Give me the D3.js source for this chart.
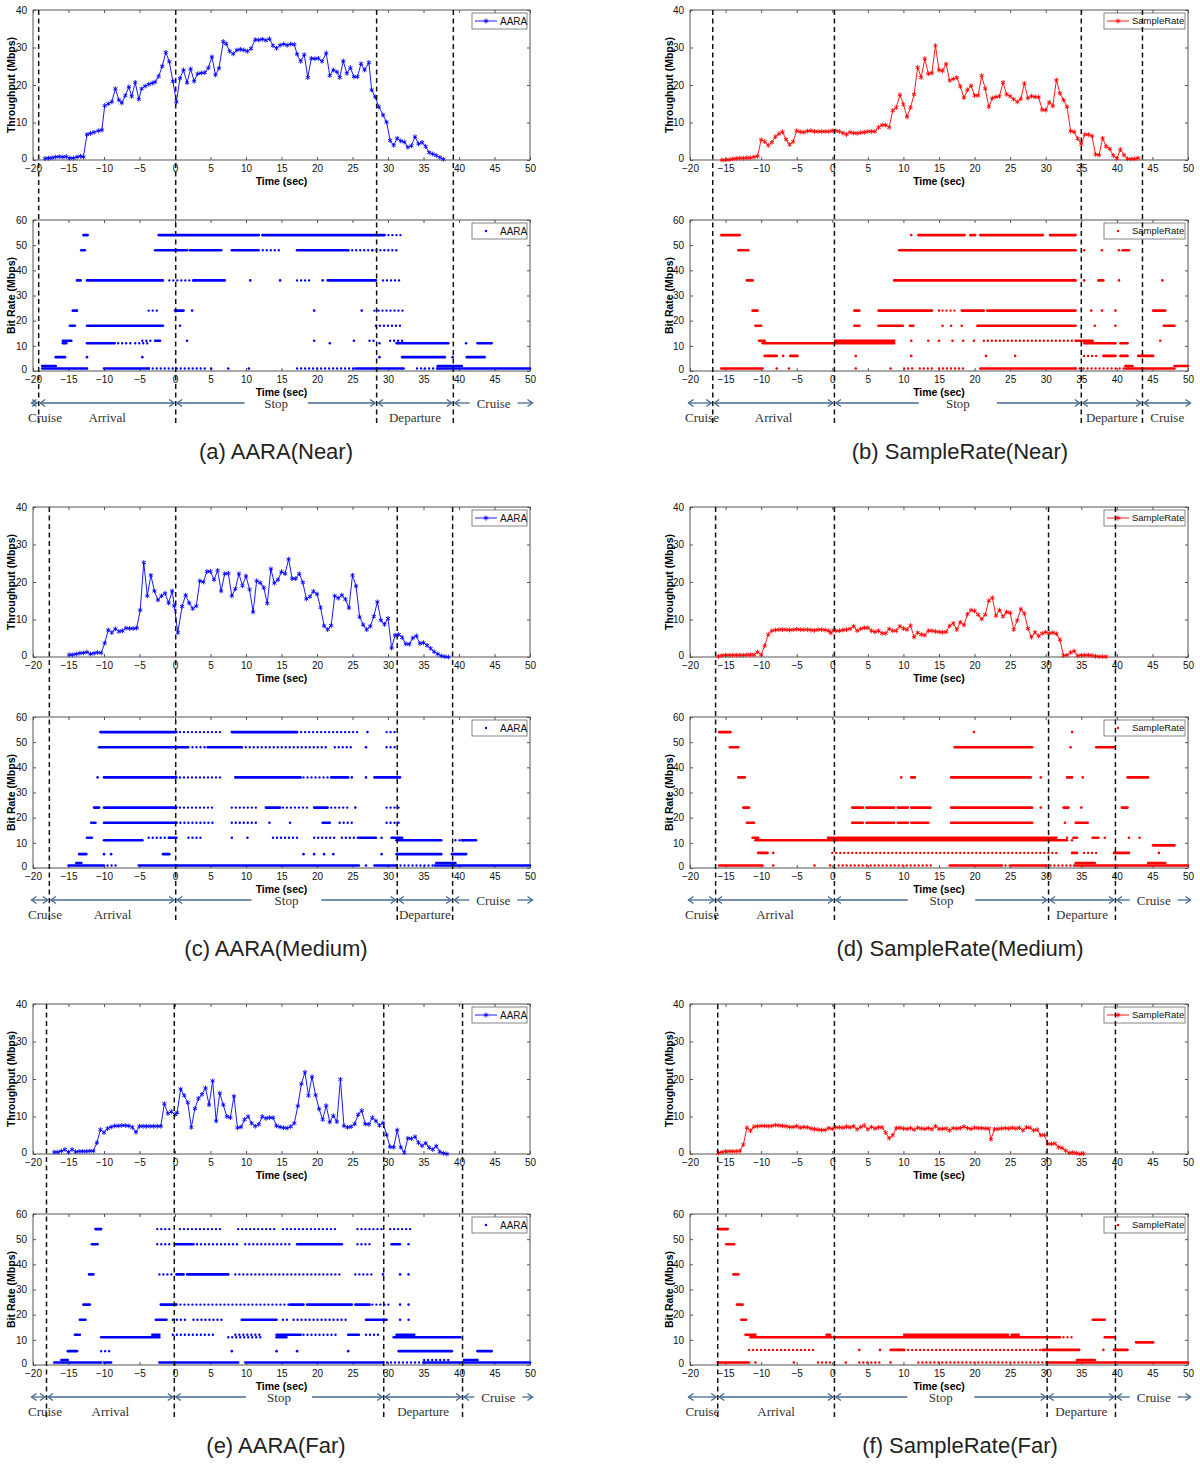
<!DOCTYPE html>
<html><head><meta charset="utf-8">
<script src="https://cdn.jsdelivr.net/npm/d3@7"></script>
<style>body{margin:0;background:#fff}svg{display:block}</style>
</head><body>
<svg id="chart" width="1200" height="1474"></svg>
<script>
// ---------------- DATA ----------------
const xTicks = [-20,-15,-10,-5,0,5,10,15,20,25,30,35,40,45,50];
const thrTicks = [0,10,20,30,40];
const rateTicks = [0,10,20,30,40,50,60];
const panelLabels = ["(a) AARA(Near)","(b) SampleRate(Near)","(c) AARA(Medium)","(d) SampleRate(Medium)","(e) AARA(Far)","(f) SampleRate(Far)"];
const schemes = ["AARA","SampleRate","AARA","SampleRate","AARA","SampleRate"];
const phaseNames = ["Cruise","Arrival","Stop","Departure","Cruise"];

// phase boundaries (sec) per panel
const boundsA = [-19.2,0.1,28.4,39.2];
const boundsB = [-16.8,0.3,35.0,43.6];
const boundsC = [-17.7,0.1,31.3,39.1];
const boundsD = [-16.4,0.3,30.4,39.8];
const boundsE = [-18.1,-0.1,29.4,40.5];
const boundsF = [-16.1,0.3,30.2,39.8];

// throughput [time, Mbps]
const thrA = [[-18.3,.4],[-17.8,.5],[-17.3,.6],[-16.8,.8],[-16.3,.9],[-15.8,.8],[-15.3,.9],[-14.8,.5],[-14.3,.5],[-13.8,.8],[-13.3,1],[-12.9,.8],[-12.4,6.8],[-11.9,7.1],[-11.4,7.4],[-10.8,7.8],[-10.3,8],[-9.9,14.5],[-9.4,15],[-8.9,15.5],[-8.4,19],[-7.9,16],[-7.5,15.2],[-7,17.2],[-6.5,19.5],[-6.1,17],[-5.6,20.7],[-5.1,16.2],[-4.7,19],[-4.2,19.7],[-3.7,20.2],[-3.2,20.5],[-2.8,20.8],[-2.3,22.3],[-1.8,25],[-1.3,28.7],[-0.8,26.2],[-0.3,21],[0.2,15.5],[0.7,21.8],[1.2,24],[1.7,20.6],[2.2,24.3],[2.7,21],[3.2,23],[3.7,23.2],[4.2,23.3],[4.7,24.6],[5.2,27.5],[5.7,22.7],[6.2,24.5],[6.8,31.6],[7.2,31],[7.7,29],[8.2,28.3],[8.7,29.3],[9.2,29.5],[9.7,29.3],[10.2,29],[10.7,29.7],[11.3,32.1],[11.8,32],[12.3,32.2],[12.8,31.9],[13.3,32.3],[13.8,30.5],[14.3,29.8],[14.8,30.6],[15.3,30.9],[15.8,30.6],[16.3,30.9],[16.8,30.8],[17.2,28.2],[17.7,26.3],[18.2,28.1],[18.7,22],[19.2,27.1],[19.7,27],[20.2,27.1],[20.7,26.3],[21.3,28.5],[21.8,22.5],[22.3,24],[22.8,23.5],[23.2,22],[23.7,26.4],[24.2,23.1],[24.7,24.6],[25.2,22.2],[25.7,22.2],[26.2,25.7],[26.7,24],[27.3,26],[27.7,18.7],[28.2,16.8],[28.7,14.2],[29.3,12],[29.8,10.1],[30.3,5.2],[30.8,3.9],[31.3,5.8],[31.8,5.1],[32.3,4.8],[32.8,3.4],[33.3,3.8],[33.8,6.2],[34.3,4.3],[34.8,4.7],[35.3,3.6],[35.8,2],[36.3,1.6],[36.8,1.2],[37.3,.7],[37.8,.2]];
const thrB = [[-15.5,0],[-15,0],[-14.5,.1],[-14,.3],[-13.5,.4],[-13,.5],[-12.5,.5],[-12,.6],[-11.5,.6],[-11,.8],[-10.5,1],[-10,5.4],[-9.5,4.9],[-9,3.9],[-8.5,4.7],[-8,6.2],[-7.5,7],[-7,7.5],[-6.5,5.5],[-6,4.1],[-5.5,4.9],[-5,7.8],[-4.5,7.5],[-4,7.4],[-3.5,7.7],[-3,7.8],[-2.5,7.6],[-2,7.6],[-1.5,7.6],[-1,7.6],[-0.5,7.6],[0,7.8],[0.5,7.8],[1,7.6],[1.5,7.2],[2,6.8],[2.5,7.4],[3,7.2],[3.5,7.1],[4,7.3],[4.5,7.4],[5,7.6],[5.5,7.6],[6,7.6],[6.5,8.7],[7,9.3],[7.5,9.3],[8,8.7],[8.5,13.2],[9,14],[9.5,17.4],[10,14.8],[10.5,11.5],[11,14],[11.5,17.5],[12,24.7],[12.5,22],[13,27],[13.5,23],[14,23.2],[14.5,30.5],[15,24],[15.5,23.8],[16,25.6],[16.5,21.2],[17,21.6],[17.5,22],[18,19.6],[18.5,16.6],[19,18.7],[19.5,19.8],[20,17.2],[20.5,17.2],[21,22.5],[21.5,19],[22,14.2],[22.5,16.5],[23,16.8],[23.5,17],[24,20.7],[24.5,17.5],[25,17],[25.5,16.2],[26,15.5],[26.5,16.3],[27,20.4],[27.5,16.5],[28,17],[28.5,16.8],[29,16.8],[29.5,13.4],[30,13.3],[30.5,15.4],[31,14.4],[31.5,21.3],[32,17.8],[32.5,16],[33,14.2],[33.5,7.7],[34,7.5],[34.5,5.7],[35,4.2],[35.5,6.8],[36,6.8],[36.5,6.4],[37,1.5],[37.5,1.3],[38,5.8],[38.5,3.6],[39,3],[39.5,1.2],[40,.4],[40.5,2.8],[41,1.3],[41.5,.3],[42,.3],[42.5,.3],[43,.5]];
const thrC = [[-14.9,.6],[-14.4,.6],[-13.9,.8],[-13.4,1],[-12.9,1.1],[-12.4,1.3],[-11.9,.8],[-11.4,1],[-10.9,1.2],[-10.4,1.1],[-9.9,3.7],[-9.4,7.2],[-8.9,6.5],[-8.4,7.5],[-7.9,6.8],[-7.4,7],[-6.9,7.7],[-6.4,7.6],[-5.9,7.6],[-5.4,7.7],[-4.9,12.5],[-4.4,25.2],[-3.9,16.3],[-3.4,21.8],[-2.9,17.6],[-2.4,15.2],[-1.9,16.3],[-1.4,17],[-0.9,14.4],[-0.4,17.6],[-0.1,13.6],[0.4,6.5],[1,13.5],[1.5,16.5],[2,14.4],[2.5,12.9],[3,13.6],[3.5,20.3],[4,20],[4.5,22.8],[5,22.8],[5.5,20.6],[6,23.1],[6.5,17.6],[7,22.2],[7.5,22.3],[8,16.3],[8.5,18.2],[9,22.2],[9.5,19],[10,21.6],[10.5,18],[11,12],[11.5,20.3],[12,19.8],[12.5,18.5],[13,14.3],[13.5,23.5],[14,19.7],[14.5,20.6],[15,22.7],[15.5,22.2],[16,26.1],[16.5,20.9],[17,20.9],[17.5,22.2],[18,19.9],[18.5,15.5],[19,16.1],[19.5,17.5],[20,16.8],[20.5,13.2],[21,8.3],[21.5,7.3],[22,8.4],[22.5,16.3],[23,15.7],[23.5,16.5],[24,15.4],[24.5,13.1],[25,21.8],[25.5,18.9],[26,10.7],[26.5,8.6],[27,7.3],[27.5,8.2],[28,10.8],[28.5,14.7],[29,9.8],[29.5,8.7],[30,10.3],[30.5,2.4],[31,5.8],[31.5,6],[32,5.2],[32.5,3.5],[33,3.4],[33.5,5.1],[34,5.6],[34.5,3.6],[35,3.8],[35.5,3.1],[36,2.3],[36.5,1.4],[37,.8],[37.5,.3],[38,.1],[38.5,0]];
const thrD = [[-16,.2],[-15.5,.4],[-15,.5],[-14.5,.5],[-14,.5],[-13.5,.5],[-13,.5],[-12.5,.5],[-12,.6],[-11.5,.6],[-11,.6],[-10.5,1.3],[-10,.6],[-9.5,3],[-9,6],[-8.5,7],[-8,7.2],[-7.5,7.3],[-7,7.3],[-6.5,7.3],[-6,7.2],[-5.5,7.3],[-5,7.4],[-4.5,7.3],[-4,7.3],[-3.5,7.3],[-3,7.2],[-2.5,7.1],[-2,7.3],[-1.5,7.3],[-1,7.2],[-0.5,7],[-0.2,6.4],[0.2,7.2],[0.5,7],[1,7],[1.5,7.2],[2,7.3],[2.5,7.5],[3,8.2],[3.5,7],[4,7.5],[4.5,7.8],[5,7.8],[5.5,7],[6,6.7],[6.5,7],[7,6.3],[7.5,6.3],[8,7.5],[8.5,7],[9,7],[9.5,8.2],[10,7.6],[10.5,7.3],[11,8.4],[11.5,5.3],[12,6.5],[12.5,6],[13,5.8],[13.5,7],[14,7],[14.5,6.8],[15,6.7],[15.5,6.6],[16,6.7],[16.5,8.3],[17,9],[17.5,7.3],[18,9.3],[18.5,8.5],[19,11.4],[19.5,12.5],[20,12.3],[20.5,11.3],[21,10.1],[21.5,11.3],[22,15],[22.5,15.8],[23,11],[23.5,12.5],[24,10.8],[24.5,12],[25,11.8],[25.5,7.3],[26,9.8],[26.5,12.8],[27,11.6],[27.5,7.6],[28,5.3],[28.5,6.6],[29,5.6],[29.5,6.3],[30,6.6],[30.5,6.3],[31,6.5],[31.5,6.2],[32,4.6],[32.5,.4],[33,.5],[33.5,1.2],[34,1.6],[34.5,.3],[35,.5],[35.5,.5],[36,.5],[36.5,.4],[37,.2],[37.5,.1],[38,.1],[38.5,.1]];
const thrE = [[-17,.5],[-16.5,.5],[-16,.8],[-15.5,1.2],[-15,.5],[-14.5,1.2],[-14,.6],[-13.5,.7],[-13,.7],[-12.5,.7],[-12,.8],[-11.5,.8],[-11,3],[-10.5,6.5],[-10,5.7],[-9.5,6.8],[-9,7.2],[-8.5,7.5],[-8,7.5],[-7.5,7.6],[-7,7.6],[-6.5,7.5],[-6,7.1],[-5.5,5.8],[-5,7.4],[-4.5,7.4],[-4,7.4],[-3.5,7.4],[-3,7.4],[-2.5,7.4],[-2,7.4],[-1.5,13.4],[-1,10.8],[-0.5,11.3],[0,10.5],[0.3,11],[0.8,17.3],[1.3,15.6],[1.8,13.7],[2.3,7.1],[2.8,12.1],[3.3,14.8],[3.8,15.9],[4.3,17.6],[4.8,13.1],[5.3,19.5],[5.8,8.8],[6.3,16.2],[6.8,13.1],[7.3,10],[7.8,9.7],[8.3,15.4],[8.8,7],[9.3,7.2],[9.8,9.2],[10.3,10],[10.8,8.2],[11.3,7.4],[11.8,7.9],[12.3,10],[12.8,9.5],[13.3,9.7],[13.8,9.7],[14.3,7.5],[14.8,7.2],[15.3,7],[15.8,6.9],[16.3,7.3],[16.8,8.2],[17.3,12.8],[17.8,18.7],[18.3,21.8],[18.8,15.6],[19.3,20.6],[19.8,15.7],[20.3,12],[20.8,9.2],[21.3,12.9],[21.8,8.5],[22.3,10.2],[22.8,8.6],[23.3,19.9],[23.8,7.5],[24.3,7.1],[24.8,7.3],[25.3,8],[25.8,10.5],[26.3,11.6],[26.8,8],[27.3,7.9],[27.8,9.7],[28.3,8.8],[28.8,7.6],[29.3,8.3],[29.8,5.1],[30.3,1.9],[30.8,1.8],[31.3,6.4],[31.8,1.8],[32.3,.4],[32.8,4.2],[33.3,4.1],[33.8,4.6],[34.3,3],[34.8,2.2],[35.3,2.9],[35.8,1.7],[36.3,1.2],[36.8,2.1],[37.3,.6],[37.8,.2],[38.3,0]];
const thrF = [[-16,.3],[-15.5,.5],[-15,.7],[-14.5,.7],[-14,.7],[-13.5,.7],[-13,.8],[-12.5,2.5],[-12,7],[-11.5,6.2],[-11,7.3],[-10.5,7.4],[-10,7.5],[-9.5,7.5],[-9,7.4],[-8.5,7.5],[-8,7.7],[-7.5,7.6],[-7,7.5],[-6.5,7.4],[-6,7.2],[-5.5,7.2],[-5,7.4],[-4.5,7],[-4,7.2],[-3.5,7.1],[-3,6.8],[-2.5,6.6],[-2,6.5],[-1.5,6.4],[-1,6.4],[-0.5,6.9],[0,6.7],[0.5,7.1],[1,7.1],[1.5,7],[2,7.3],[2.5,7.1],[3,7.4],[3.5,6.6],[4,7.2],[4.5,7.6],[5,6.6],[5.5,7.2],[6,6.8],[6.5,7.1],[7,7.1],[7.5,5.7],[8,4.2],[8.5,5],[9,6.9],[9.5,7],[10,6.8],[10.5,6.7],[11,6.9],[11.5,6.5],[12,7],[12.5,6.8],[13,6.7],[13.5,6.9],[14,6.6],[14.5,7.4],[15,6.7],[15.5,6.7],[16,6.8],[16.5,6.3],[17,6.9],[17.5,6.8],[18,6.9],[18.5,7.3],[19,6.9],[19.5,6.7],[20,7],[20.5,6.9],[21,6.9],[21.5,6.8],[22,6.8],[22.3,3.9],[22.8,6.6],[23.3,6.7],[23.8,6.8],[24.3,6.9],[24.8,6.8],[25.3,7],[25.8,6.8],[26.3,7],[26.8,6.3],[27.3,7.1],[27.8,7],[28.3,6.3],[28.8,6.5],[29.3,5],[29.8,5.1],[30.3,2.7],[30.8,2.7],[31.3,2.8],[31.8,1.8],[32.3,1.6],[32.8,.9],[33.3,.3],[33.8,.4],[34.3,.2],[34.8,0],[35.3,.1]];

// bit-rate samples: [rate, t] single sample, [rate, t0, t1] dense run, [rate, t0, t1, 1] sparse run
const rateA = [[54,-12.9,-12.3],[54,-2.3,11.8],[54,12.3,29.5],[54,29.5,31.8,1],
[48,-13.2,-12.7],[48,-2.8,1.7],[48,2.1,6.5],[48,8,11.6],[48,11.8,14.8,1],[48,17.2,24.4],[48,24.4,27.8,1],[48,27.8,31.7,1],
[36,-13.8,-13.3],[36,-12.4,-1.7],[36,-0.8,2.6,1],[36,2.6,7],[36,10.6],[36,14.8],[36,17.2,19.4,1],[36,20.8],[36,21.5,28.3],[36,29.3,31.7,1],
[24,-14.4,-13.8],[24,-3.7,-2.2,1],[24,0,1.2],[24,2.4],[24,19.6],[24,26.3],[24,28.1,32.2,1],
[18,-14.8,-14.1],[18,-12.4,-1.7],[18,0.7],[18,28.3,32.2,1],
[12,-15.8,-14.6],[12,-4.6,-3.2,1],[12,-2.8,-2.1],[12,1.7],[12,19.6],[12,25.2],[12,27.4,28.1,1],[12,30.3,32,1],
[11,-15.8,-15.3],[11,-12.4,-8.5],[11,-8,-6.1,1],[11,-5.6,-3.7,1],[11,21.8],[11,28.8],[11,31.2,38.5],[11,41],[11,42.6,44.6],
[5.5,-16.8,-15.5],[5.5,-12.4],[5.5,-4.6],[5.5,28.8],[5.5,32,38],[5.5,39.1],[5.5,41.1,43.6],
[2,-18.7,-16.8],[2,37,40.4],
[1,-18.7,-12.4],[1,-10,-3.7],[1,-3.7,4.6,1],[1,5.1],[1,7.5],[1,10.4],[1,17.2,25.4,1],[1,25.4,32.2],[1,34.1,37,1],[1,37,50]];
const rateB = [[54,-15.6,-13],[54,11.1],[54,12.1,18.6],[54,19.4,20.1],[54,20.8,29.6],[54,30.6,34.2],
[48,-13.2,-11.8],[48,9.4,34.2],[48,35.4],[48,37.9],[48,40.3],[48,40.8,41.7],
[36,-12,-11.2],[36,8.7,34.2],[36,35.4],[36,37.4,38.1],[36,40.3],[36,46.4],
[24,-11.2,-10.5],[24,3.1,3.8],[24,6.5,14],[24,15],[24,15.5,17.4,1],[24,18.2,21.3],[24,21.8,34.2],[24,36.4],[24,37.9],[24,39.8],[24,45.1,46.8],
[18,-10.8,-10],[18,3.1,3.8],[18,6.5,9.9],[18,10.9,11.4],[18,15.5],[18,16.7],[18,18.2],[18,20.4,34.2],[18,36.9],[18,39.8],[18,46.6,48.1],
[12,-10.3,-9.5],[12,0.4,8.7],[12,11.1],[12,13.5],[12,15],[12,16.9],[12,18.4],[12,19.9],[12,21.3,34.2,1],[12,34.2,36.6],[12,46.1],
[11,-9.8,0.2],[11,0.2,8.7],[11,35.4,38.1],[11,38.3,39.8],[11,40.5,41.5],
[6,-9.5,-7.8],[6,-6.9],[6,-5.9,-4.9],[6,3.3],[6,11.1],[6,21.6],[6,25.7],[6,35.4,37.1,1],[6,38.1,39.8],[6,40.5,41.5],[6,43,45.1],
[2,41.2,42.2],[2,48.1,50],
[1,-15.6,-9.8],[1,-7.8],[1,-6.1],[1,3.3],[1,8.2],[1,10.1,11.6,1],[1,12.3,14,1],[1,15,18.4,1],[1,20.8,34.2],[1,34.2,41.2,1],[1,41.2,48.1]];
const rateC = [[54,-10.5,0.2],[54,0.7,6.5,1],[54,8,17.2],[54,17.2,26.1,1],[54,27.1],[54,29.8,31.2,1],
[48,-10.7,1.7],[48,1.9,4.6,1],[48,4.6,9.4],[48,9.4,21.5,1],[48,22.5,24.9,1],[48,26.9],[48,29.8,31.2,1],
[36,-10.9],[36,-10,0.2],[36,0.7,6.5,1],[36,8.5,17.7],[36,18.1,22,1],[36,22,24.4],[36,24.9],[36,26.9],[36,28.1,31.7],
[24,-11.4,-10.7],[24,-10,0.2],[24,0.7,5.5,1],[24,8,11.4,1],[24,12.8,14.8],[24,15.2,19.1,1],[24,19.6,21.5],[24,22,24.4,1],[24,25.4],[24,29.8,31.5,1],
[18,-11.8,-11.2],[18,-10,0.2],[18,0.2,5.5,1],[18,8,11.4,1],[18,13.3],[18,16.2],[18,20.8,21.8],[18,23.2,25.4,1],[18,29.8,31.5,1],
[12,-12.4,-11.7],[12,-3.7,-0.8,1],[12,-0.8,0.2],[12,1.9,4.1,1],[12,8],[12,10.2],[12,13.8,17.2,1],[12,19.6,22.5,1],[12,23.5,25.9,1],[12,25.9,28.3],[12,29.1],[12,30.5,32],
[11,-10,-4.6],[11,31.2,37.5],[11,39.5,41,1],[11,40.4,42.4],
[5.5,-13.5,-12.5],[5.5,-10],[5.5,-9],[5.5,-1.7,-0.8],[5.5,18.1],[5.5,19.6],[5.5,21],[5.5,22.3],[5.5,29.1],[5.5,31.2,37.5],[5.5,39,41],
[2,-13.9,-13.2],[2,36.8,39.5],
[1,-15,-10],[1,-9.5,-8,1],[1,-5.1,0.2],[1,0.2,25.9],[1,26.9],[1,28.1,31.2],[1,31.2,36.6,1],[1,36.6,50]];
const rateD = [[54,-15.9,-14.3],[54,19.9],[54,33.7],[54,40],
[48,-14.4,-13.2],[48,17.2,28.1],[48,33.5],[48,37.1,39.6],
[36,-13.2,-12.3],[36,9.7],[36,11.1,11.6],[36,16.7,27.9],[36,29.3],[36,33,33.7],[36,35.2],[36,41.5,44.4],
[24,-12.5,-11.7],[24,2.8,4.3],[24,4.8,8.7],[24,9.2,10.6],[24,11.1,13.8],[24,16.7,28.1],[24,29.3],[24,32.5,33.2],[24,35],[24,40.7,41.5],
[18,-12,-11],[18,2.8,4.3],[18,4.8,8.7],[18,9.2,10.6],[18,11.1,13.5],[18,16.7,28.1],[18,32.7],[18,34.2,35.9],
[12,-11.2,-10.4],[12,-0.6,31.5],[12,33],[12,33.9,34.4],[12,36.6,37.4],[12,38.3],[12,41.7],[12,43.2],
[11,-10.8,33],[11,33.7],
[9,45.1,48.1],
[6,-10.4,-9.1],[6,-8.3],[6,0,31.5,1],[6,33.7,34.4],[6,35.4,37.1,1],[6,39.6,41.7],[6,45.9],
[2,34.2,36.9],[2,44.4,46.8],
[1,-15.9,-9.8],[1,-8.3],[1,-2.5],[1,-0.3],[1,0.9,14,1],[1,16.5,23.8],[1,23.8,25.2,1],[1,25.2,30.1],[1,30.1,34,1],[1,34,50]];
const rateE = [[54,-11.2,-10.4],[54,-2.5,-0.3,1],[54,0.7,6.5,1],[54,8.9,14.3,1],[54,15.2,22.8,1],[54,25.7,29.3,1],[54,30.3,33.2,1],
[48,-11.7,-10.9],[48,-2.5,-0.3,1],[48,0,2.6],[48,3.1,8.9,1],[48,9.9,16.2,1],[48,17.2,23.5],[48,25.7,27.8,1],[48,30.5,31.7],[48,32.9],
[36,-12.1,-11.5],[36,-2.2,-0.3,1],[36,0.2,1.2],[36,1.7,7.5],[36,8.5,23.5,1],[36,25.4,27.8,1],[36,29.3],[36,31.7],[36,32.9],
[24,-12.9,-12],[24,-2,0.2],[24,0.2,16.2,1],[24,16.2,18.1],[24,18.6,24.9],[24,25.4,27.4],[24,27.8,30.3,1],[24,31.7],[24,32.9],
[18,-13.4,-12.6],[18,-2.7,-1.2],[18,-0.3,1.7,1],[18,2.6,7,1],[18,9.4,14.3],[18,15.2,16.2,1],[18,16.7,24.5,1],[18,26.9,29.8],[18,31.7],[18,32.9],
[12,-14.1,-13.4],[12,-3.2,-2.2],[12,-0.3,5.5,1],[12,8.5,12.3,1],[12,14.3,17.7],[12,18.1,22.8,1],[12,24.4,25.9],[12,26.9,28.8,1],[12,31.2,33.7],
[11,-10.4,-2.2],[11,7.5,12.3,1],[11,14.3,15.7],[11,30.8,40.2],
[5.5,-15.1,-13.8],[5.5,-10.4,-9,1],[5.5,8],[5.5,14.3],[5.5,17.2],[5.5,24.4],[5.5,31.5,39],[5.5,42.6,44.6],
[2,-16,-15.1],[2,35.1,38.5,1],[2,40.7,42.6],
[1,-17,-10.4],[1,-10,-9],[1,-2.2,8.9],[1,9.9,29.3],[1,29.3,35.1,1],[1,35.1,50]];
const rateF = [[54,-16.1,-14.7],[48,-14.9,-13.8],[36,-13.9,-13.2],[24,-13.4,-12.6],[18,-12.8,-12.1],[18,36.6,38.3],
[12,-12.2,-10.8],[12,-0.8,-0.3],[12,10.1,24.7],[12,25.2,26.2],
[11,-11.5,-0.1],[11,0.2,32],[11,32.5,34,1],[11,38.3,39.6],
[9,42.7,45.1],
[6,-11.7,-2.5,1],[6,3.8],[6,6.7],[6,8.2,10.1],[6,10.1,29.6,1],[6,29.6,34.7],[6,38.1],[6,39.6,41.5],
[2,34.4,36.9],
[1,-16.1,-11.7],[1,-10.8],[1,-5.4],[1,-2,-0.1,1],[1,1.9],[1,3.8,6.7,1],[1,8.2],[1,12.1,30.1,1],[1,30.1,34.4],[1,34.4,50]];

const thrSeries = [thrA,thrB,thrC,thrD,thrE,thrF];
const rateSeries = [rateA,rateB,rateC,rateD,rateE,rateF];
const boundSeries = [boundsA,boundsB,boundsC,boundsD,boundsE,boundsF];

// ---------------- LAYOUT ----------------
const svg = d3.select("#chart");
const cols = [{x0:33,x1:530,cap:276,ylab:11},{x0:690,x1:1188,cap:960,ylab:669}];
const rowOff = [0,497,994];
const colorOf = s => s==="AARA" ? "#0000ff" : "#ff0000";
const tickFont = "Liberation Sans, Arial, sans-serif";
const serif = "Liberation Serif, Times New Roman, serif";

function drawAxes(g, x, y, yTicks, top, bot, xlabel, ylabel, ylabX, x0, x1) {
  g.append("rect").attr("x",x0).attr("y",top).attr("width",x1-x0).attr("height",bot-top)
    .attr("fill","none").attr("stroke","#555").attr("stroke-width",1);
  const ax = g.append("g").attr("transform",`translate(0,${bot})`)
    .call(d3.axisBottom(x).tickValues(xTicks).tickSize(-3).tickPadding(5).tickFormat(d3.format("d")));
  const at = g.append("g").attr("transform",`translate(0,${top})`)
    .call(d3.axisTop(x).tickValues(xTicks).tickSize(-3).tickFormat(""));
  const ay = g.append("g").attr("transform",`translate(${x0},0)`)
    .call(d3.axisLeft(y).tickValues(yTicks).tickSize(-3).tickPadding(6));
  const ar = g.append("g").attr("transform",`translate(${x1},0)`)
    .call(d3.axisRight(y).tickValues(yTicks).tickSize(-3).tickFormat(""));
  [ax,at,ay,ar].forEach(a=>{
    a.select(".domain").remove();
    a.selectAll("line").attr("stroke","#555");
    a.selectAll("text").attr("font-family",tickFont).attr("font-size",10).attr("fill","#111");
  });
  // lift the lowest y label a touch so it does not collide with the first x label
  ay.selectAll(".tick").filter(d => d === 0).select("text").attr("dy","0.1em");
  g.append("text").attr("x",(x0+x1)/2).attr("y",bot+25).attr("text-anchor","middle")
    .attr("font-family",tickFont).attr("font-size",10.5).attr("font-weight","bold").text(xlabel);
  g.append("text").attr("transform",`translate(${ylabX},${(top+bot)/2}) rotate(-90)`)
    .attr("text-anchor","middle").attr("dy","0.35em")
    .attr("font-family",tickFont).attr("font-size",10.5).attr("font-weight","bold").text(ylabel);
}

function legend(g, x1, top, name, color, withLine) {
  const w = name.length > 5 ? 81 : 55, h = 16;
  const lx = x1 - 3 - w, ly = top + 3;
  g.append("rect").attr("x",lx).attr("y",ly).attr("width",w).attr("height",h)
    .attr("fill","#fff").attr("stroke","#666").attr("stroke-width",0.8);
  const cx = lx + 14, cy = ly + h/2;
  if (withLine) {
    g.append("line").attr("x1",lx+3).attr("x2",lx+25).attr("y1",cy).attr("y2",cy)
      .attr("stroke",color).attr("stroke-width",0.9);
    g.append("path").attr("d",d3.symbol(d3.symbolAsterisk,18)()).attr("transform",`translate(${cx},${cy})`)
      .attr("fill","none").attr("stroke",color).attr("stroke-width",0.9);
  } else {
    g.append("circle").attr("cx",cx).attr("cy",cy).attr("r",1.2).attr("fill",color);
  }
  g.append("text").attr("x",lx+28).attr("y",cy).attr("dy","0.35em")
    .attr("font-family",tickFont).attr("font-size",name.length>5?9.5:10).attr("fill","#111").text(name);
}

panelLabels.forEach((label, i) => {
  const col = cols[i % 2], off = rowOff[Math.floor(i/2)];
  const scheme = schemes[i], color = colorOf(scheme);
  const g = svg.append("g");
  const x = d3.scaleLinear().domain([-20,50]).range([col.x0, col.x1]);
  const tTop = 10 + off, tBot = 160 + off;
  const rTop = 220 + off, rBot = 371 + off;
  const yT = d3.scaleLinear().domain([0,40]).range([tBot, tTop]);
  const yR = d3.scaleLinear().domain([0,60]).range([rBot, rTop]);

  // --- throughput plot
  drawAxes(g, x, yT, thrTicks, tTop, tBot, "Time (sec)", "Throughput (Mbps)", col.ylab, col.x0, col.x1);
  const thr = thrSeries[i];
  g.append("path").datum(thr)
    .attr("d", d3.line().x(d=>x(d[0])).y(d=>yT(d[1])))
    .attr("fill","none").attr("stroke",color).attr("stroke-width",0.9);
  g.append("g").selectAll("path").data(thr).join("path")
    .attr("d", d3.symbol(d3.symbolAsterisk,16)())
    .attr("transform", d=>`translate(${x(d[0])},${yT(d[1])})`)
    .attr("fill","none").attr("stroke",color).attr("stroke-width",0.9);
  legend(g, col.x1, tTop, scheme, color, true);

  // --- bit-rate plot
  drawAxes(g, x, yR, rateTicks, rTop, rBot, "Time (sec)", "Bit Rate (Mbps)", col.ylab, col.x0, col.x1);
  const rs = rateSeries[i];
  const pts = g.append("g");
  rs.forEach(r => {
    if (r.length === 2) {
      pts.append("circle").attr("cx",x(r[1])).attr("cy",yR(r[0])).attr("r",1.3).attr("fill",color);
    } else {
      const ln = pts.append("line").attr("x1",x(r[1])).attr("x2",x(r[2]))
        .attr("y1",yR(r[0])).attr("y2",yR(r[0])).attr("stroke",color)
        .attr("stroke-linecap","round");
      if (r[3]) ln.attr("stroke-width",2.4).attr("stroke-dasharray","0,4");
      else ln.attr("stroke-width",2.6);
    }
  });
  legend(g, col.x1, rTop, scheme, color, false);

  // --- phase boundaries (dashed)
  const bounds = boundSeries[i];
  g.append("g").selectAll("line").data(bounds).join("line")
    .attr("x1",d=>x(d)).attr("x2",d=>x(d)).attr("y1",tTop).attr("y2",rBot+55)
    .attr("stroke","#111").attr("stroke-width",1.5).attr("stroke-dasharray","5,3.5");

  // --- phase annotation arrows
  const edges = [x(-20)-3, ...bounds.map(b=>x(b)), x(50)+4];
  const ay = rBot + 32, arrowColor = "#45698f";
  const ag = g.append("g");
  phaseNames.forEach((name, k) => {
    const a = edges[k] + 1.5, b = edges[k+1] - 1.5, mid = (a+b)/2;
    const inline = (name === "Stop") || (k === 4 && b - a > 55);
    const chevron = (tipX, dir) => `M${tipX+dir*5},${ay-3.5}L${tipX},${ay}L${tipX+dir*5},${ay+3.5}`;
    ag.append("path").attr("d", chevron(a, 1) + chevron(b, -1))
      .attr("fill","none").attr("stroke",arrowColor).attr("stroke-width",1.3);
    if (inline) {
      const t = ag.append("text").attr("x",mid).attr("y",ay+4.5).attr("text-anchor","middle")
        .attr("font-family",serif).attr("font-size",13).attr("fill","#333").text(name);
      const tw = t.node().getComputedTextLength();
      const gap = name === "Stop" ? Math.max(tw + 20, 0.32*(b-a)) : tw + 14;
      ag.append("line").attr("x1",a).attr("x2",mid-gap/2).attr("y1",ay).attr("y2",ay)
        .attr("stroke",arrowColor).attr("stroke-width",1.3);
      ag.append("line").attr("x1",mid+gap/2).attr("x2",b).attr("y1",ay).attr("y2",ay)
        .attr("stroke",arrowColor).attr("stroke-width",1.3);
    } else {
      ag.append("line").attr("x1",a).attr("x2",b).attr("y1",ay).attr("y2",ay)
        .attr("stroke",arrowColor).attr("stroke-width",1.3);
      const t = ag.append("text").attr("y",rBot+51).attr("text-anchor","middle")
        .attr("font-family",serif).attr("font-size",13).attr("fill","#333").text(name);
      const tw = t.node().getComputedTextLength();
      let cx = mid;
      if (cx - tw/2 < col.x0 - 5) cx = col.x0 - 5 + tw/2;
      t.attr("x", cx);
    }
  });

  // --- caption
  g.append("text").attr("x",col.cap).attr("y",rBot+88).attr("text-anchor","middle")
    .attr("font-family",tickFont).attr("font-size",22).attr("fill","#222").text(label);
});
</script>
</body></html>
